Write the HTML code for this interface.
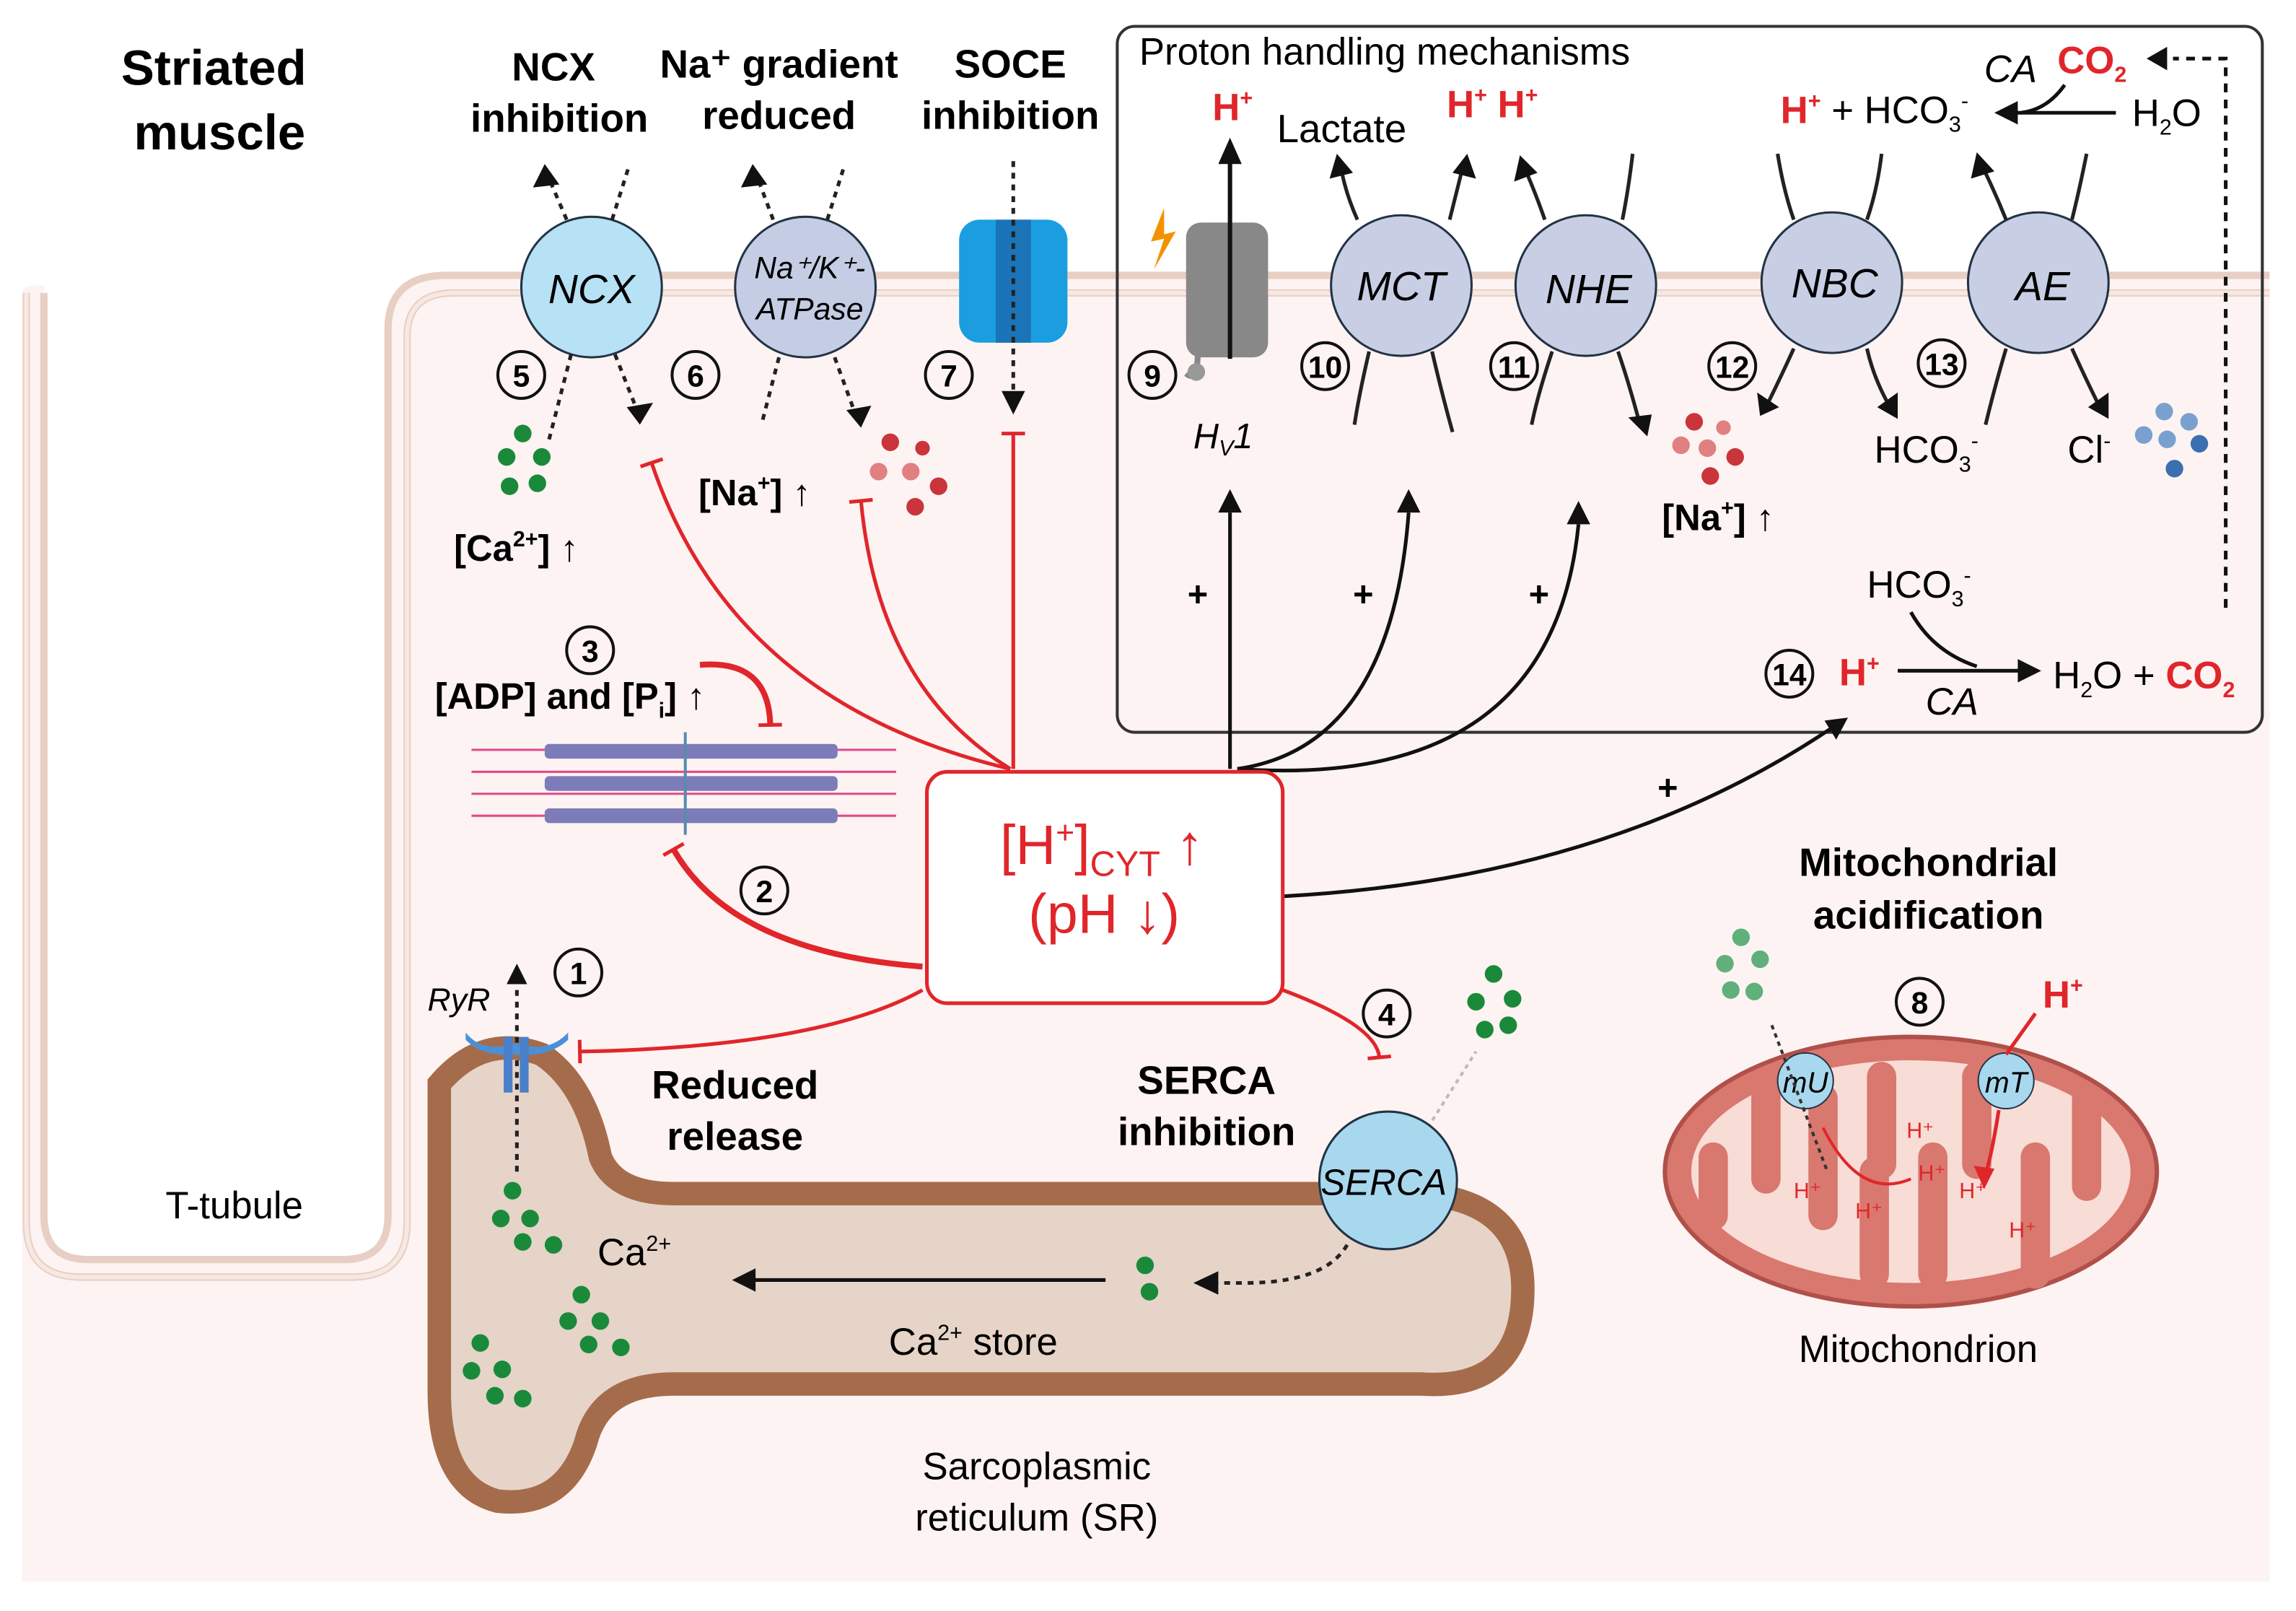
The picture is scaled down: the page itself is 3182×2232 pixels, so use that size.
<!DOCTYPE html>
<html><head><meta charset="utf-8">
<style>
html,body{margin:0;padding:0;background:#fff;}
svg{display:block;}
text{font-family:"Liberation Sans",sans-serif;}
.b{font-weight:bold;}
.r{fill:#e0262b;}
</style></head><body>
<svg width="3182" height="2232" viewBox="0 0 1568 1100" preserveAspectRatio="none" xmlns="http://www.w3.org/2000/svg">
<defs>
<marker id="tb" markerWidth="20" markerHeight="20" refX="10" refY="10" orient="auto" markerUnits="userSpaceOnUse"><path d="M10,2 L10,18" stroke="#e0262b" stroke-width="2.5"/></marker>
</defs>
<path d="M15,1080 L15,200 Q15,195 25,195 L30,195 L30,830 Q30,860 60,860 L230,860 Q265,860 265,830 L265,230 Q265,190 305,190 L1550,190 L1550,1080 Z" fill="#fdf3f2"/>
<g fill="none" stroke="#e8cfc3" stroke-width="5">
<path d="M18,200 L18,835 Q18,872 55,872 L240,872 Q278,872 278,835 L278,230 Q278,200 310,200 L1550,200"/>
<path d="M30,200 L30,830 Q30,860 60,860 L235,860 Q265,860 265,830 L265,225 Q265,188 305,188 L1550,188"/>
</g>
<path d="M18,200 L18,835 Q18,872 55,872 L240,872 Q278,872 278,835 L278,230 Q278,200 310,200 L1550,200" fill="none" stroke="#f6e8e2" stroke-width="3"/>
<text x="146" y="58" font-size="34" class="b" text-anchor="middle">Striated</text>
<text x="150" y="102" font-size="34" class="b" text-anchor="middle">muscle</text>
<text x="160" y="832" font-size="26" text-anchor="middle">T-tubule</text>
<g font-size="27" class="b" text-anchor="middle">
<text x="378" y="55">NCX</text><text x="382" y="90">inhibition</text>
<text x="532" y="53">Na⁺ gradient</text><text x="532" y="88">reduced</text>
<text x="690" y="53">SOCE</text><text x="690" y="88">inhibition</text>
</g>
<rect x="763" y="18" width="782" height="482" rx="12" fill="none" stroke="#333" stroke-width="2"/>
<text x="778" y="44" font-size="26">Proton handling mechanisms</text>
<path d="M300,740 Q330,705 370,720 Q400,740 410,790 Q420,815 460,815 L970,815 Q1040,820 1040,880 Q1040,950 970,945 L460,945 Q410,945 400,985 Q385,1030 340,1025 Q300,1015 300,950 Z" fill="#e6d4c8" stroke="#a56c4c" stroke-width="16"/>
<circle cx="404" cy="196" r="48" fill="#b7e1f4" stroke="#234" stroke-width="1.5"/>
<text x="404" y="207" font-size="28" font-style="italic" text-anchor="middle">NCX</text>
<circle cx="550" cy="196" r="48" fill="#c4cde4" stroke="#234" stroke-width="1.5"/>
<text x="553" y="190" font-size="21" font-style="italic" text-anchor="middle">Na⁺/K⁺-</text>
<text x="553" y="218" font-size="21" font-style="italic" text-anchor="middle">ATPase</text>
<rect x="655" y="150" width="74" height="84" rx="14" fill="#1a9ee0"/>
<rect x="680" y="150" width="24" height="84" fill="#1b74b8"/>
<rect x="810" y="152" width="56" height="92" rx="10" fill="#888"/>
<path d="M818,240 Q818,262 810,255" stroke="#888" stroke-width="4" fill="none"/><circle cx="817" cy="254" r="6" fill="#999"/>
<path d="M795,142 L786,165 L795,163 L788,184 L803,158 L795,160 Z" fill="#f39200"/>
<g fill="#c8cfe4" stroke="#234" stroke-width="1.5">
<circle cx="957" cy="195" r="48"/><circle cx="1083" cy="195" r="48"/><circle cx="1251" cy="193" r="48"/><circle cx="1392" cy="193" r="48"/>
</g>
<g font-size="28" font-style="italic" text-anchor="middle">
<text x="957" y="205">MCT</text><text x="1085" y="207">NHE</text><text x="1253" y="203">NBC</text><text x="1395" y="205">AE</text>
</g>
<g fill="none" stroke="#222" stroke-width="2.5">
<path d="M927,150 Q918,130 915,110"/><path d="M990,150 Q995,130 1000,110"/><path d="M935,240 Q928,270 925,290"/><path d="M978,240 Q985,270 992,295"/>
<path d="M1055,150 Q1048,130 1040,112"/><path d="M1108,150 Q1112,130 1115,105"/><path d="M1060,240 Q1050,270 1046,290"/><path d="M1105,240 Q1112,260 1120,290"/>
<path d="M1225,150 Q1218,130 1214,105"/><path d="M1275,150 Q1282,130 1285,105"/><path d="M1225,238 Q1215,260 1205,280"/><path d="M1275,238 Q1280,260 1292,280"/>
<path d="M1370,150 Q1362,130 1352,110"/><path d="M1415,150 Q1420,130 1425,105"/><path d="M1370,238 Q1362,265 1356,290"/><path d="M1415,238 Q1425,260 1435,280"/>
</g>
<g fill="none" stroke="#222" stroke-width="2.5" stroke-dasharray="4,4">
<path d="M387,150 L372,115"/><path d="M418,150 L430,112"/><path d="M390,242 L375,300"/><path d="M420,242 L437,285"/>
<path d="M528,150 L515,115"/><path d="M565,150 L577,112"/><path d="M532,244 L520,290"/><path d="M570,244 L585,285"/>
<path d="M692,110 L692,280"/><path d="M353,800 L353,665"/><path d="M920,850 Q905,876 850,876 L830,876"/>
</g>
<g fill="#111">
<path d="M372,112 L364,128 L382,126Z"/><path d="M437,290 L446,275 L428,278Z"/><path d="M514,112 L506,128 L524,126Z"/><path d="M588,292 L595,277 L578,280Z"/><path d="M692,283 L684,267 L700,267Z"/><path d="M353,658 L346,672 L360,672Z"/>
<path d="M840,94 L832,112 L848,112Z"/><path d="M913,105 L908,122 L924,118Z"/><path d="M1002,105 L992,118 L1008,122Z"/><path d="M1038,106 L1034,124 L1050,118Z"/><path d="M1125,298 L1112,285 L1128,283Z"/><path d="M1202,284 L1200,268 L1215,278Z"/><path d="M1296,286 L1282,278 L1296,268Z"/><path d="M1350,104 L1346,122 L1362,117Z"/><path d="M1440,286 L1426,278 L1440,268Z"/>
<path d="M815,876 L832,868 L832,884Z"/><path d="M500,874 L516,866 L516,882Z"/><path d="M840,334 L832,350 L848,350Z"/><path d="M962,334 L954,350 L970,350Z"/><path d="M1078,342 L1070,358 L1086,358Z"/><path d="M1262,490 L1246,492 L1254,505Z"/><path d="M1394,458 L1378,450 L1378,466Z"/><path d="M1362,77 L1378,69 L1378,85Z"/><path d="M1466,40 L1480,32 L1480,48Z"/>
</g>
<path d="M840,110 L840,245" stroke="#111" stroke-width="3"/>
<path d="M515,874 L755,874" stroke="#111" stroke-width="2.5"/>
<g fill="none" stroke="#111" stroke-width="2.5">
<path d="M840,525 L840,350"/><path d="M845,525 Q950,510 962,350"/><path d="M845,525 Q1060,540 1078,358"/><path d="M876,612 Q1100,600 1254,495"/>
<path d="M1375,77 L1445,77"/><path d="M1410,58 Q1398,75 1380,77" /><path d="M1520,415 L1520,40 L1484,40" stroke-dasharray="6,5"/>
<path d="M1296,458 L1380,458"/><path d="M1305,418 Q1320,445 1350,455"/>
</g>
<g font-size="24" class="b" text-anchor="middle"><text x="818" y="414">+</text><text x="931" y="414">+</text><text x="1051" y="414">+</text><text x="1139" y="546">+</text></g>
<text x="828" y="82" font-size="26" class="r b">H<tspan font-size="15" dy="-10">+</tspan></text>
<text x="872" y="97" font-size="27">Lactate</text>
<text x="988" y="80" font-size="26" class="r b">H<tspan font-size="15" dy="-10">+</tspan><tspan dy="10"> H</tspan><tspan font-size="15" dy="-10">+</tspan></text>
<text x="1216" y="84" font-size="26"><tspan class="r b">H<tspan font-size="15" dy="-10">+</tspan></tspan><tspan dy="10"> + HCO</tspan><tspan font-size="15" dy="6">3</tspan><tspan font-size="15" dy="-16">-</tspan></text>
<text x="1456" y="86" font-size="26">H<tspan font-size="15" dy="6">2</tspan><tspan dy="-6">O</tspan></text>
<text x="1355" y="56" font-size="26" font-style="italic">CA</text>
<text x="1405" y="50" font-size="26" class="r b">CO<tspan font-size="15" dy="6">2</tspan></text>
<text x="815" y="306" font-size="24" font-style="italic">H<tspan font-size="15" dy="5">V</tspan><tspan dy="-5">1</tspan></text>
<text x="1280" y="316" font-size="26">HCO<tspan font-size="15" dy="6">3</tspan><tspan font-size="15" dy="-16">-</tspan></text>
<text x="1412" y="316" font-size="26">Cl<tspan font-size="15" dy="-10">-</tspan></text>
<text x="1135" y="362" font-size="25" class="b">[Na<tspan font-size="15" dy="-10">+</tspan><tspan dy="10">] ↑</tspan></text>
<text x="1275" y="408" font-size="26">HCO<tspan font-size="15" dy="6">3</tspan><tspan font-size="15" dy="-16">-</tspan></text>
<text x="1256" y="468" font-size="26" class="r b">H<tspan font-size="15" dy="-10">+</tspan></text>
<text x="1315" y="488" font-size="26" font-style="italic">CA</text>
<text x="1402" y="470" font-size="26">H<tspan font-size="15" dy="6">2</tspan><tspan dy="-6">O + </tspan><tspan class="r b">CO<tspan font-size="15" dy="6">2</tspan></tspan></text>
<g font-size="22" text-anchor="middle" fill="none" stroke="#111" stroke-width="2">
<circle cx="356" cy="256" r="16"/><circle cx="475" cy="256" r="16"/><circle cx="648" cy="256" r="16"/><circle cx="787" cy="256" r="16"/><circle cx="905" cy="250" r="16"/><circle cx="1034" cy="250" r="16"/><circle cx="1183" cy="250" r="16"/><circle cx="1326" cy="248" r="16"/><circle cx="1222" cy="460" r="16"/><circle cx="403" cy="444" r="16"/><circle cx="522" cy="608" r="16"/><circle cx="395" cy="664" r="16"/><circle cx="947" cy="692" r="16"/><circle cx="1311" cy="684" r="16"/>
</g>
<g font-size="21" text-anchor="middle" class="b">
<text x="356" y="264">5</text><text x="475" y="264">6</text><text x="648" y="264">7</text><text x="787" y="264">9</text><text x="905" y="258">10</text><text x="1034" y="258">11</text><text x="1183" y="258">12</text><text x="1326" y="256">13</text><text x="1222" y="468">14</text><text x="403" y="452">3</text><text x="522" y="616">2</text><text x="395" y="672">1</text><text x="947" y="700">4</text><text x="1311" y="692">8</text>
</g>
<text x="310" y="383" font-size="25" class="b">[Ca<tspan font-size="15" dy="-10">2+</tspan><tspan dy="10">] ↑</tspan></text>
<text x="477" y="345" font-size="25" class="b">[Na<tspan font-size="15" dy="-10">+</tspan><tspan dy="10">] ↑</tspan></text>
<text x="297" y="484" font-size="25" class="b">[ADP] and [P<tspan font-size="15" dy="6">i</tspan><tspan dy="-6">] ↑</tspan></text>
<g fill="#1a8a3a"><circle cx="357" cy="296" r="6"/><circle cx="346" cy="312" r="6"/><circle cx="370" cy="312" r="6"/><circle cx="348" cy="332" r="6"/><circle cx="367" cy="330" r="6"/>
<circle cx="1020" cy="665" r="6"/><circle cx="1008" cy="684" r="6"/><circle cx="1033" cy="682" r="6"/><circle cx="1014" cy="703" r="6"/><circle cx="1030" cy="700" r="6"/>
<circle cx="350" cy="813" r="6"/><circle cx="342" cy="832" r="6"/><circle cx="362" cy="832" r="6"/><circle cx="357" cy="848" r="6"/><circle cx="378" cy="850" r="6"/>
<circle cx="397" cy="884" r="6"/><circle cx="388" cy="902" r="6"/><circle cx="410" cy="902" r="6"/><circle cx="402" cy="918" r="6"/><circle cx="424" cy="920" r="6"/>
<circle cx="328" cy="917" r="6"/><circle cx="322" cy="936" r="6"/><circle cx="343" cy="935" r="6"/><circle cx="338" cy="953" r="6"/><circle cx="357" cy="955" r="6"/>
<circle cx="782" cy="864" r="6"/><circle cx="785" cy="882" r="6"/><circle cx="1170" cy="818" r="6"/></g>
<g fill="#5fb07a"><circle cx="1189" cy="640" r="6"/><circle cx="1178" cy="658" r="6"/><circle cx="1202" cy="655" r="6"/><circle cx="1182" cy="676" r="6"/><circle cx="1198" cy="677" r="6"/></g>
<g fill="#c9353a"><circle cx="608" cy="302" r="6"/><circle cx="630" cy="306" r="5"/><circle cx="600" cy="322" r="6" fill="#e08080"/><circle cx="622" cy="322" r="6" fill="#e08080"/><circle cx="641" cy="332" r="6"/><circle cx="625" cy="346" r="6"/>
<circle cx="1157" cy="288" r="6"/><circle cx="1177" cy="292" r="5" fill="#e08080"/><circle cx="1148" cy="304" r="6" fill="#e08080"/><circle cx="1166" cy="306" r="6" fill="#e08080"/><circle cx="1185" cy="312" r="6"/><circle cx="1168" cy="325" r="6"/></g>
<g><circle cx="1478" cy="281" r="6" fill="#7aa0d0"/><circle cx="1495" cy="288" r="6" fill="#7aa0d0"/><circle cx="1464" cy="297" r="6" fill="#7aa0d0"/><circle cx="1480" cy="300" r="6" fill="#7aa0d0"/><circle cx="1502" cy="303" r="6" fill="#3a6fb0"/><circle cx="1485" cy="320" r="6" fill="#3a6fb0"/></g>
<g stroke="#e04a8a" stroke-width="1.5">
<path d="M322,512 L612,512 M322,527 L612,527 M322,542 L612,542 M322,557 L612,557"/>
</g>
<g fill="#7c7cb8"><rect x="372" y="508" width="200" height="10" rx="3"/><rect x="372" y="530" width="200" height="10" rx="3"/><rect x="372" y="552" width="200" height="10" rx="3"/></g>
<path d="M468,500 L468,570" stroke="#5a8ab0" stroke-width="2"/>
<g fill="none" stroke="#e0262b" stroke-width="2.5">
<path d="M690,525 Q500,480 445,316" marker-end="url(#tb)"/>
<path d="M690,525 Q600,470 588,342" marker-end="url(#tb)"/>
<path d="M692,525 L692,296" marker-end="url(#tb)"/>
<path d="M630,660 Q500,650 460,580" stroke-width="4" marker-end="url(#tb)"/>
<path d="M630,676 Q560,715 396,718" marker-end="url(#tb)"/>
<path d="M876,676 Q940,700 942,722" marker-end="url(#tb)"/>
<path d="M478,454 Q525,450 526,495" stroke-width="4" marker-end="url(#tb)"/>
</g>
<rect x="633" y="527" width="243" height="158" rx="14" fill="#fff" stroke="#e0262b" stroke-width="2.5"/>
<text x="683" y="590" font-size="38" class="r">[H<tspan font-size="22" dy="-14">+</tspan><tspan dy="14">]</tspan><tspan font-size="24" dy="8">CYT</tspan><tspan dy="-8"> ↑</tspan></text>
<text x="754" y="637" font-size="38" class="r" text-anchor="middle">(pH ↓)</text>
<path d="M318,705 Q330,720 352,712 Q374,720 388,705 L388,710 Q375,722 352,720 Q330,722 318,710Z" fill="#4a90d9"/>
<rect x="344" y="708" width="6" height="38" fill="#4a7fc9"/><rect x="355" y="708" width="6" height="38" fill="#4a7fc9"/>
<text x="292" y="690" font-size="22" font-style="italic">RyR</text>
<g font-size="27" class="b" text-anchor="middle"><text x="502" y="750">Reduced</text><text x="502" y="785">release</text><text x="824" y="747">SERCA</text><text x="824" y="782">inhibition</text></g>
<path d="M975,770 L1008,718" stroke="#bbb" stroke-width="2" stroke-dasharray="3,3"/>
<circle cx="948" cy="806" r="47" fill="#a8d8ee" stroke="#234" stroke-width="1.5"/>
<text x="945" y="816" font-size="25" font-style="italic" text-anchor="middle">SERCA</text>
<text x="408" y="864" font-size="26">Ca<tspan font-size="15" dy="-10">2+</tspan></text>
<text x="607" y="925" font-size="26">Ca<tspan font-size="15" dy="-10">2+</tspan><tspan dy="10"> store</tspan></text>
<text x="708" y="1010" font-size="26" text-anchor="middle">Sarcoplasmic</text>
<text x="708" y="1045" font-size="26" text-anchor="middle">reticulum (SR)</text>
<g font-size="27" class="b" text-anchor="middle"><text x="1317" y="598">Mitochondrial</text><text x="1317" y="634">acidification</text></g>
<ellipse cx="1305" cy="800" rx="168" ry="92" fill="#d9786e" stroke="#b0504a" stroke-width="3"/>
<ellipse cx="1305" cy="800" rx="150" ry="76" fill="#f8dcd6"/>
<g fill="#d9786e"><rect x="1196" y="735" width="20" height="80" rx="10"/><rect x="1235" y="740" width="20" height="100" rx="10"/><rect x="1275" y="725" width="20" height="80" rx="10"/><rect x="1310" y="780" width="20" height="100" rx="10"/><rect x="1340" y="725" width="20" height="80" rx="10"/><rect x="1380" y="780" width="20" height="100" rx="10"/><rect x="1415" y="740" width="20" height="80" rx="10"/><rect x="1270" y="790" width="20" height="90" rx="10"/><rect x="1160" y="780" width="20" height="60" rx="10"/></g>
<circle cx="1233" cy="738" r="19" fill="#a8d8ee" stroke="#234"/><text x="1233" y="746" font-size="20" font-style="italic" text-anchor="middle">mU</text>
<circle cx="1370" cy="738" r="19" fill="#a8d8ee" stroke="#234"/><text x="1370" y="746" font-size="20" font-style="italic" text-anchor="middle">mT</text>
<path d="M1210,700 L1248,800" stroke="#333" stroke-width="2" stroke-dasharray="3,3"/>
<path d="M1390,692 L1370,720 M1365,758 Q1360,790 1355,805" stroke="#e0262b" stroke-width="2.5" fill="none"/><path d="M1355,812 L1348,796 L1362,798Z" fill="#e0262b"/>
<path d="M1245,770 Q1270,820 1305,805" stroke="#e0262b" stroke-width="2" fill="none"/>
<text x="1395" y="688" font-size="26" class="r b">H<tspan font-size="15" dy="-10">+</tspan></text>
<g font-size="15" class="r"><text x="1302" y="777">H⁺</text><text x="1225" y="818">H⁺</text><text x="1310" y="806">H⁺</text><text x="1267" y="832">H⁺</text><text x="1338" y="818">H⁺</text><text x="1372" y="845">H⁺</text></g>
<text x="1310" y="930" font-size="26" text-anchor="middle">Mitochondrion</text>
</svg>
</body></html>
